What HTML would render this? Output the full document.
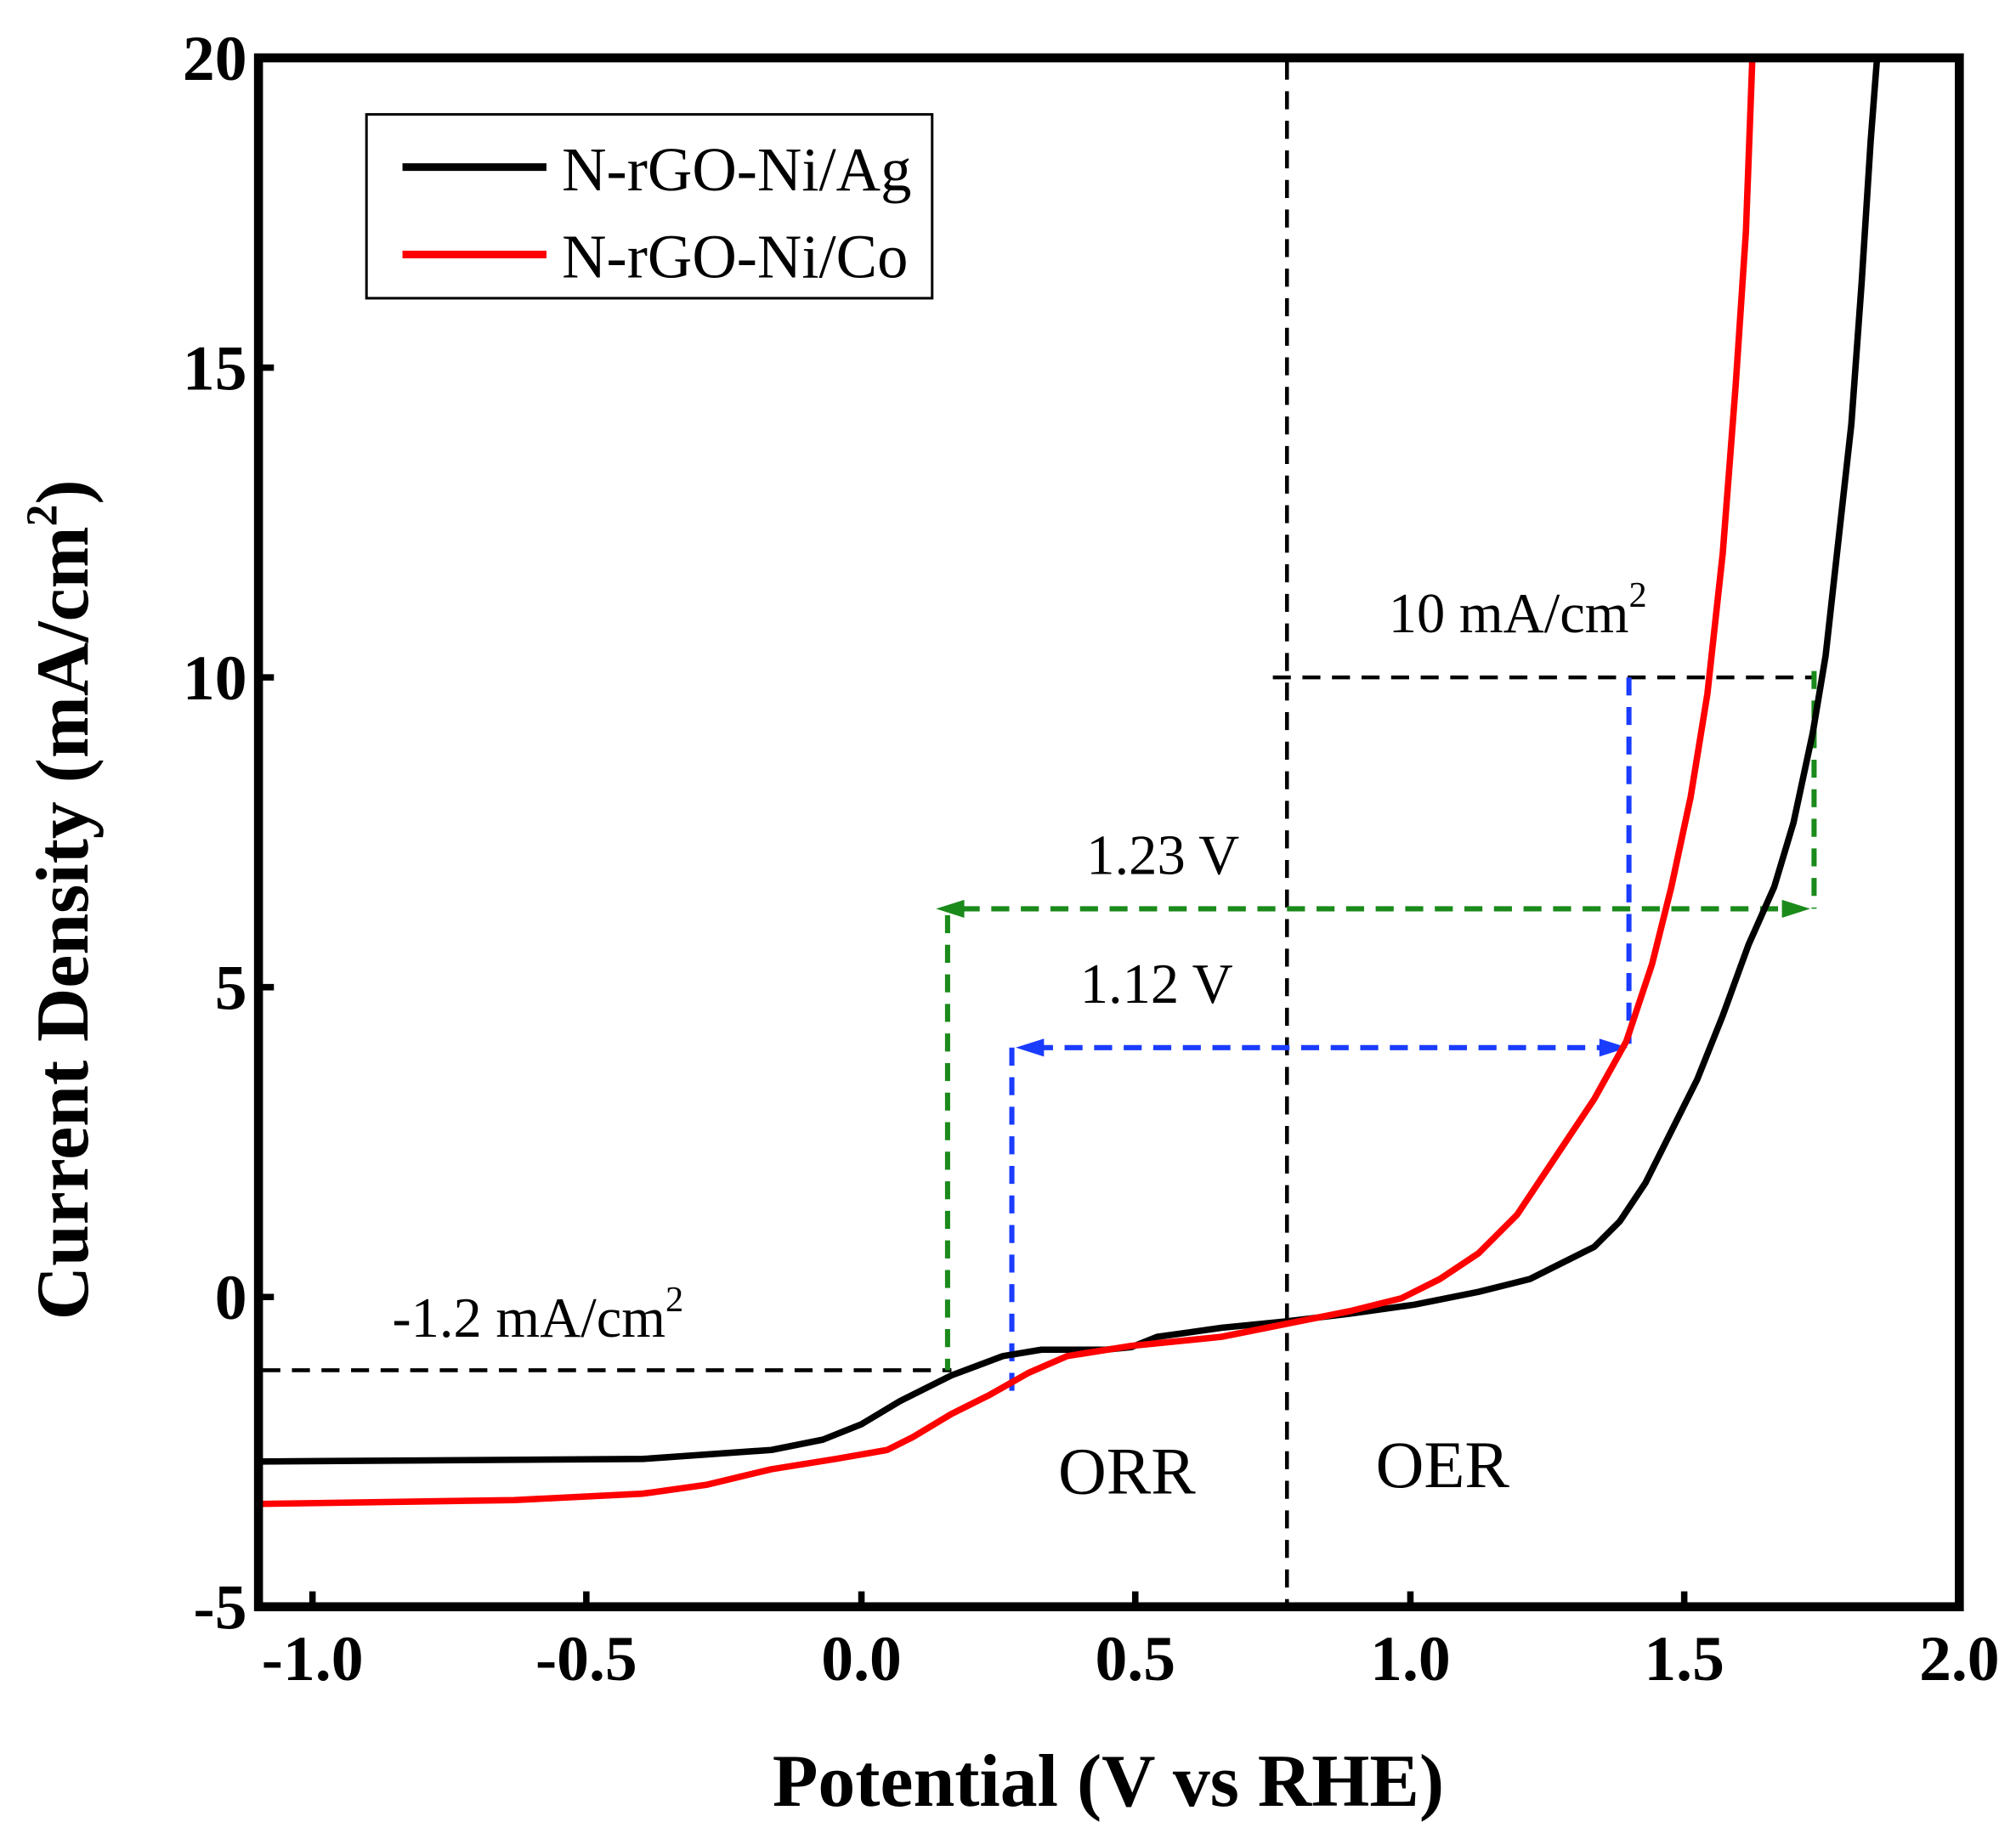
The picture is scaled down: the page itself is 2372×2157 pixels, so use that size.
<!DOCTYPE html>
<html><head><meta charset="utf-8"><style>
html,body{margin:0;padding:0;background:#fff}
svg{display:block}
text{font-family:"Liberation Serif",serif}
</style></head><body>
<svg width="2372" height="2157" viewBox="0 0 1568 1426" xmlns="http://www.w3.org/2000/svg">
<rect width="1568" height="1426" fill="#fff"/>
<!-- dashed guides -->
<g fill="none" stroke-width="3" stroke-dasharray="14,9">
<line x1="1001" y1="48" x2="1001" y2="1248" stroke="#000"/>
<line x1="990" y1="527" x2="1410" y2="527" stroke="#000"/>
<line x1="204" y1="1066" x2="740" y2="1066" stroke="#000"/>
<line x1="1411" y1="522" x2="1411" y2="707" stroke="#1a8a1a" stroke-width="4"/>
<line x1="748" y1="707" x2="1395" y2="707" stroke="#1a8a1a" stroke-width="4"/>
<line x1="737" y1="712" x2="737" y2="1066" stroke="#1a8a1a" stroke-width="4"/>
<line x1="1267" y1="527" x2="1267" y2="812" stroke="#1a3cff" stroke-width="4"/>
<line x1="805" y1="815" x2="1248" y2="815" stroke="#1a3cff" stroke-width="4"/>
<line x1="787" y1="815" x2="787" y2="1090" stroke="#1a3cff" stroke-width="4"/>
</g>
<polygon points="728,707 750,700 750,714" fill="#1a8a1a"/>
<polygon points="1408,707 1386,700 1386,714" fill="#1a8a1a"/>
<polygon points="790,815 812,808 812,822" fill="#1a3cff"/>
<polygon points="1266,815 1244,808 1244,822" fill="#1a3cff"/>
<!-- curves -->
<polyline fill="none" stroke="#000" stroke-width="5" stroke-linejoin="round" points="201,1137 500,1135 600,1128 640,1120 670,1108 700,1090 740,1070 780,1055 810,1050 860,1050 880,1048 900,1040 950,1033 1000,1028 1050,1022 1100,1015 1150,1005 1190,995 1210,985 1240,970 1260,950 1280,920 1300,880 1320,840 1340,790 1360,735 1380,690 1395,640 1410,570 1420,510 1430,420 1440,330 1448,220 1455,110 1460,45"/>
<polyline fill="none" stroke="#f00" stroke-width="5" stroke-linejoin="round" points="201,1170 400,1167 500,1162 550,1155 600,1143 650,1135 690,1128 710,1118 740,1100 770,1085 800,1068 830,1055 880,1047 950,1040 1000,1030 1050,1020 1090,1010 1120,995 1150,975 1180,945 1210,900 1240,855 1265,810 1285,750 1300,690 1315,620 1328,540 1340,430 1350,300 1358,180 1363,45"/>
<!-- axes -->
<rect x="201" y="45" width="1323" height="1205" fill="none" stroke="#000" stroke-width="7"/>
<g stroke="#000" stroke-width="5">
<line x1="243" y1="1250" x2="243" y2="1238"/><line x1="456" y1="1250" x2="456" y2="1238"/>
<line x1="670" y1="1250" x2="670" y2="1238"/><line x1="883" y1="1250" x2="883" y2="1238"/>
<line x1="1097" y1="1250" x2="1097" y2="1238"/><line x1="1310" y1="1250" x2="1310" y2="1238"/>
<line x1="201" y1="286" x2="213" y2="286"/><line x1="201" y1="527" x2="213" y2="527"/>
<line x1="201" y1="768" x2="213" y2="768"/><line x1="201" y1="1009" x2="213" y2="1009"/>
</g>
<g font-weight="bold" font-size="50" text-anchor="end">
<text x="192" y="62">20</text><text x="192" y="303">15</text><text x="192" y="544">10</text>
<text x="192" y="785">5</text><text x="192" y="1026">0</text><text x="192" y="1267">-5</text>
</g>
<g font-weight="bold" font-size="50" text-anchor="middle">
<text x="243" y="1307">-1.0</text><text x="456" y="1307">-0.5</text><text x="670" y="1307">0.0</text>
<text x="883" y="1307">0.5</text><text x="1097" y="1307">1.0</text><text x="1310" y="1307">1.5</text><text x="1524" y="1307">2.0</text>
</g>
<text x="862" y="1405" font-weight="bold" font-size="58" text-anchor="middle">Potential (V vs RHE)</text>
<text transform="translate(68,700) rotate(-90)" font-weight="bold" font-size="58" text-anchor="middle">Current Density (mA/cm<tspan dy="-24" font-size="34">2</tspan><tspan dy="24">)</tspan></text>
<!-- legend -->
<rect x="285" y="89" width="440" height="143" fill="#fff" stroke="#000" stroke-width="2"/>
<line x1="313" y1="130" x2="425" y2="130" stroke="#000" stroke-width="6"/>
<line x1="313" y1="198" x2="425" y2="198" stroke="#f00" stroke-width="6"/>
<text x="437" y="148" font-size="48">N-rGO-Ni/Ag</text>
<text x="437" y="216" font-size="48">N-rGO-Ni/Co</text>
<!-- annotations -->
<g font-size="44">
<text x="1080" y="492">10 mA/cm<tspan dy="-20" font-size="28">2</tspan></text>
<text x="845" y="680">1.23 V</text>
<text x="840" y="780">1.12 V</text>
<text x="305" y="1040">-1.2 mA/cm<tspan dy="-20" font-size="28">2</tspan></text>
</g>
<text x="823" y="1162" font-size="52">ORR</text>
<text x="1070" y="1157" font-size="52">OER</text>
</svg>
</body></html>
